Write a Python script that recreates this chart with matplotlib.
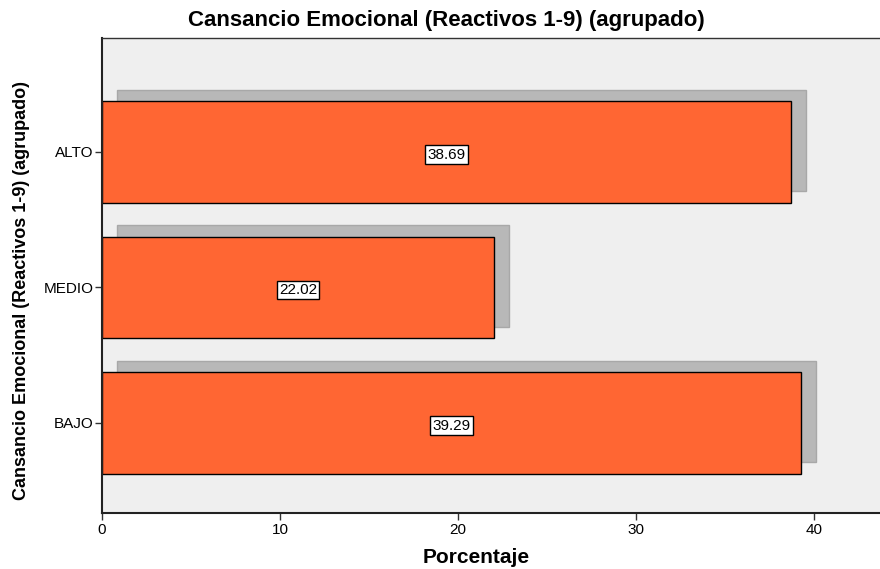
import matplotlib
matplotlib.use("Agg")
import matplotlib.pyplot as plt
from matplotlib import font_manager

# datos
categorias = ["BAJO", "MEDIO", "ALTO"]
porcentajes = [39.29, 22.02, 38.69]
etiquetas = ["39.29", "22.02", "38.69"]
ticks_x = [0, 10, 20, 30, 40]

nombres = {f.name for f in font_manager.fontManager.ttflist}
fuente = "Liberation Sans" if "Liberation Sans" in nombres else "DejaVu Sans"
fuente_estrecha = "Liberation Sans Narrow" if "Liberation Sans Narrow" in nombres else fuente
plt.rcParams['font.family'] = fuente

fig = plt.figure(figsize=(8.8, 5.69), dpi=100)
ax = fig.add_axes([0.1159, 0.0984, 0.8841, 0.8348])
ax.set_facecolor('#efefef')

y = list(range(len(categorias)))
alto = 0.75
dx, dy = 0.84, 0.085

# sombra
ax.barh([v + dy for v in y], porcentajes, height=alto, left=dx,
        color='#b8b8b8', edgecolor='#a8a8a8', linewidth=1, zorder=1)
# barras
ax.barh(y, porcentajes, height=alto, color='#ff6633',
        edgecolor='black', linewidth=1, zorder=2)

for yi, v, t in zip(y, porcentajes, etiquetas):
    ax.text(v / 2, yi - 0.02, t, ha='center', va='center', fontsize=11,
            zorder=3,
            bbox=dict(boxstyle='square,pad=0.15', facecolor='white',
                      edgecolor='black', linewidth=1))

ax.set_xlim(0, 43.7)
ax.set_ylim(-0.664, 2.84)
ax.set_xticks(ticks_x)
ax.set_yticks(y)
ax.set_yticklabels(categorias)
ax.tick_params(axis='both', labelsize=11, length=5, width=1, color='#333333')
ax.tick_params(axis='y', pad=1)
ax.tick_params(axis='x', pad=2)

for s in ['left', 'bottom']:
    ax.spines[s].set_linewidth(1.5)
    ax.spines[s].set_color('#222222')
ax.spines['top'].set_linewidth(1)
ax.spines['top'].set_color('#333333')
ax.spines['right'].set_visible(False)

ax.set_ylabel("Cansancio Emocional (Reactivos 1-9) (agrupado)", fontsize=13,
              fontweight='bold', family=fuente_estrecha, va='center')
ax.yaxis.set_label_coords(-0.103, 0.469)
fig.text(0.541, 0.021, "Porcentaje", ha='center', va='center',
         fontsize=15, fontweight='bold')
fig.text(0.507, 0.964, "Cansancio Emocional (Reactivos 1-9) (agrupado)",
         ha='center', va='center', fontsize=16, fontweight='bold')

fig.savefig("out.png", dpi=100)
